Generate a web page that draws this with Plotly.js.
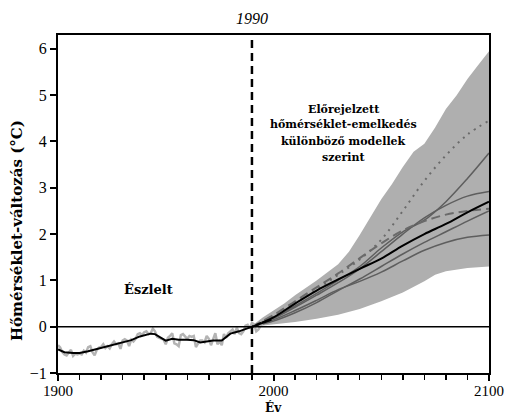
<!DOCTYPE html>
<html>
<head>
<meta charset="utf-8">
<script src="https://cdn.plot.ly/plotly-3.0.1.min.js"></script>
<style>html,body{margin:0;padding:0;background:#fff;}#chart{width:509px;height:414px;}</style>
</head>
<body>
<div id="chart"></div>
<script>
// Observed annual anomalies (gray, noisy)
const obsYears = [];
for (let y = 1900; y <= 1995; y++) obsYears.push(y);
const obsAnnual = [
  -0.40,-0.45,-0.55,-0.60,-0.62,-0.55,-0.50,-0.63,-0.58,-0.60,
  -0.58,-0.60,-0.52,-0.56,-0.44,-0.42,-0.55,-0.62,-0.50,-0.45,
  -0.44,-0.38,-0.46,-0.42,-0.47,-0.38,-0.32,-0.38,-0.36,-0.48,
  -0.30,-0.27,-0.30,-0.42,-0.28,-0.32,-0.26,-0.16,-0.14,-0.18,
  -0.12,-0.10,-0.16,-0.14,-0.04,-0.10,-0.22,-0.24,-0.26,-0.28,
  -0.38,-0.24,-0.20,-0.14,-0.36,-0.38,-0.42,-0.18,-0.16,-0.22,
  -0.26,-0.20,-0.22,-0.20,-0.44,-0.36,-0.30,-0.30,-0.34,-0.20,
  -0.26,-0.40,-0.26,-0.14,-0.38,-0.32,-0.40,-0.16,-0.24,-0.14,
  -0.10,-0.06,-0.16,-0.02,-0.14,-0.16,-0.10, 0.02, 0.04,-0.04,
   0.08, 0.05,-0.10,-0.06, 0.02, 0.10
];

// Observed smoothed (black)
const smoothYears = [1900,1903,1907,1910,1914,1919,1924,1929,1934,1938,1941,1943,1945,1948,1950,1953,1956,1960,1963,1966,1970,1972,1976,1978,1980,1984,1987,1990,1994,1999];
const smoothVals  = [-0.49,-0.55,-0.57,-0.57,-0.53,-0.47,-0.42,-0.36,-0.29,-0.21,-0.17,-0.15,-0.16,-0.25,-0.30,-0.26,-0.28,-0.28,-0.29,-0.34,-0.32,-0.30,-0.30,-0.22,-0.15,-0.10,-0.05,0.00,0.08,0.15];

// Projections
const projYears = [1990,2000,2010,2020,2030,2040,2050,2060,2070,2080,2090,2100];
const bandUpperYears = [1990,1995,2000,2005,2010,2020,2030,2035,2040,2045,2050,2055,2060,2065,2070,2075,2080,2085,2090,2095,2100];
const bandUpper = [0.02,0.20,0.35,0.50,0.68,1.00,1.35,1.62,1.98,2.38,2.75,3.08,3.45,3.78,3.95,4.30,4.70,5.00,5.35,5.65,5.95];
const bandLowerYears = [1990,2000,2010,2020,2030,2040,2050,2060,2070,2075,2080,2090,2100];
const bandLower = [0.00,0.05,0.10,0.17,0.26,0.38,0.55,0.74,0.98,1.12,1.20,1.27,1.30];

const modelMean   = [0,0.20,0.50,0.78,1.02,1.25,1.47,1.75,2.00,2.22,2.47,2.70];
const modelDotted = [0,0.22,0.50,0.80,1.12,1.45,1.88,2.50,3.15,3.70,4.15,4.45];
const modelDashed = [0,0.25,0.55,0.85,1.15,1.48,1.80,2.08,2.28,2.42,2.50,2.55];
const modelA      = [0,0.20,0.45,0.72,1.00,1.30,1.70,2.05,2.30,2.70,3.20,3.75];
const modelB      = [0,0.18,0.42,0.68,0.95,1.25,1.62,2.00,2.35,2.62,2.82,2.92];
const modelC      = [0,0.12,0.30,0.52,0.78,1.03,1.30,1.57,1.82,2.05,2.28,2.50];
const modelD      = [0,0.15,0.35,0.57,0.80,0.98,1.18,1.42,1.65,1.82,1.93,1.98];

const projLabelLines = ['Előrejelzett','hőmérséklet-emelkedés','különböző modellek','szerint'];
const projLabelY = [4.70, 4.36, 4.01, 3.66];

const serif = "Liberation Serif, DejaVu Serif, serif";
const bold = "DejaVu Serif, Liberation Serif, serif";

const gray = '#5e5e5e';
const traces = [
  {x: bandLowerYears, y: bandLower, mode:'lines', line:{width:0, color:'#afafaf'}, hoverinfo:'skip', showlegend:false},
  {x: bandUpperYears, y: bandUpper, mode:'lines', line:{width:0, color:'#afafaf'}, fill:'tonexty', fillcolor:'#afafaf', hoverinfo:'skip', showlegend:false},
  {x: projYears, y: modelA, mode:'lines', line:{color:gray, width:1.5, shape:'spline'}, showlegend:false},
  {x: projYears, y: modelB, mode:'lines', line:{color:gray, width:1.5, shape:'spline'}, showlegend:false},
  {x: projYears, y: modelC, mode:'lines', line:{color:gray, width:1.5, shape:'spline'}, showlegend:false},
  {x: projYears, y: modelD, mode:'lines', line:{color:gray, width:1.5, shape:'spline'}, showlegend:false},
  {x: projYears, y: modelDotted, mode:'lines', line:{color:'#6a6a6a', width:2, dash:'2px,5px', shape:'spline'}, showlegend:false},
  {x: projYears, y: modelDashed, mode:'lines', line:{color:'#6a6a6a', width:2, dash:'9px,5px', shape:'spline'}, showlegend:false},
  {x: projYears, y: modelMean, mode:'lines', line:{color:'#000', width:2, shape:'spline'}, showlegend:false},
  {x: obsYears, y: obsAnnual, mode:'lines', line:{color:'#b4b4b4', width:2.5}, showlegend:false},
  {x: smoothYears, y: smoothVals, mode:'lines', line:{color:'#000', width:2}, showlegend:false}
];

const annotations = [
  {text:'1990', xref:'x', x:1990, yref:'paper', y:1.05, yanchor:'middle', showarrow:false,
   font:{family:serif, size:16, color:'#000', style:'italic'}},
  {text:'<b>Észlelt</b>', xref:'x', x:1942, yref:'y', y:0.8, yanchor:'middle', showarrow:false,
   font:{family:bold, size:13, color:'#000'}},
  {text:'<b>Hőmérséklet-változás (°C)</b>', xref:'paper', x:-0.095, xanchor:'center', yref:'paper', y:0.42, yanchor:'middle', textangle:-90, showarrow:false,
   font:{family:bold, size:15, color:'#000'}},
  {text:'<b>Év</b>', xref:'paper', x:0.5, yref:'paper', y:-0.101, yanchor:'middle', showarrow:false,
   font:{family:bold, size:12, color:'#000'}}
];
projLabelLines.forEach((t, i) => {
  annotations.push({text:'<b>' + t + '</b>', xref:'x', x:2032.5, yref:'y', y:projLabelY[i], yanchor:'middle', showarrow:false,
    font:{family:bold, size:11, color:'#000'}});
});

const layout = {
  width: 509, height: 414,
  margin: {l:58, r:20, t:35, b:41},
  paper_bgcolor:'#fff', plot_bgcolor:'#fff',
  showlegend:false,
  xaxis: {
    range:[1900,2100], tickvals:[1900,2000,2100], ticktext:['1900','2000','2100'],
    ticks:'outside', ticklen:6, tickwidth:2, tickcolor:'#000',
    minor:{dtick:10, tick0:1900, ticks:'outside', ticklen:5, tickwidth:1.5, tickcolor:'#000', showgrid:false},
    showline:true, linecolor:'#000', linewidth:2, mirror:true,
    showgrid:false, zeroline:false, ticklabelstandoff:-3,
    tickfont:{family:serif, size:15, color:'#000'}
  },
  yaxis: {
    range:[-1,6.3], tickvals:[-1,0,1,2,3,4,5,6],
    ticks:'outside', ticklen:6, tickwidth:2, tickcolor:'#000',
    showline:true, linecolor:'#000', linewidth:2, mirror:true,
    showgrid:false, zeroline:false,
    tickfont:{family:serif, size:16, color:'#000'}
  },
  shapes: [
    {type:'line', xref:'paper', x0:0, x1:1, yref:'y', y0:0, y1:0, line:{color:'#000', width:1.5}, layer:'above'},
    {type:'line', xref:'x', x0:1990, x1:1990, yref:'paper', y0:0, y1:1, line:{color:'#000', width:2.5, dash:'8px,5px'}, layer:'above'}
  ],
  annotations: annotations
};

Plotly.newPlot('chart', traces, layout, {staticPlot:true, displayModeBar:false});
</script>
</body>
</html>
